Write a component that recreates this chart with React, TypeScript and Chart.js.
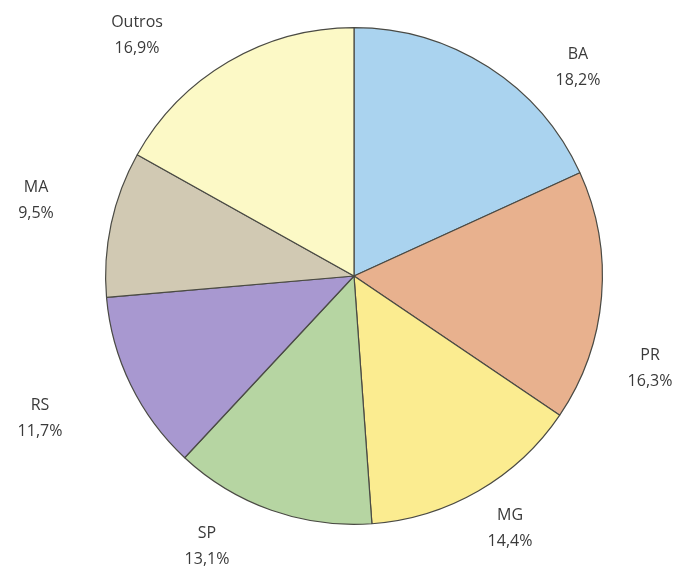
import React, { useEffect, useRef } from "react";
import { Chart, registerables } from "chart.js";

Chart.register(...registerables);

const categories = ["BA", "PR", "MG", "SP", "RS", "MA", "Outros"];
const shares = [18.2, 16.3, 14.4, 13.1, 11.7, 9.5, 16.9];
const shareLabels = ["18,2%", "16,3%", "14,4%", "13,1%", "11,7%", "9,5%", "16,9%"];
const colors = ["#aad3ef", "#e8b18e", "#fbec90", "#b6d5a2", "#a898d0", "#d1c9b3", "#fcf9c6"];
// label block centre offsets relative to pie centre (layout only)
const labelOffsets: [number, number][] = [
  [224, -209],
  [296, 92],
  [156, 252],
  [-147, 270],
  [-314, 142],
  [-318, -76],
  [-217, -241],
];

const labelPlugin = {
  id: "outerLabels",
  afterDraw(chart: any) {
    const ctx = chart.ctx;
    const meta = chart.getDatasetMeta(0);
    const arc0 = meta.data[0];
    if (!arc0) return;
    const cx = arc0.x;
    const cy = arc0.y;
    ctx.save();
    ctx.fillStyle = "#3a3a3a";
    ctx.font = "16px 'Open Sans', sans-serif";
    ctx.textAlign = "center";
    ctx.textBaseline = "middle";
    categories.forEach((c, i) => {
      const [dx, dy] = labelOffsets[i];
      ctx.fillText(c, cx + dx, cy + dy - 13);
      ctx.fillText(shareLabels[i], cx + dx, cy + dy + 13);
    });
    ctx.restore();
  },
};

export default function App() {
  const ref = useRef<HTMLCanvasElement>(null);
  useEffect(() => {
    if (!ref.current) return;
    const chart = new Chart(ref.current, {
      type: "pie",
      data: {
        labels: categories,
        datasets: [
          {
            data: shares,
            backgroundColor: colors,
            borderColor: "#4a4a44",
            borderWidth: 1.2,
          },
        ],
      },
      options: {
        responsive: false,
        animation: false,
        layout: { padding: { left: 105, right: 73, top: 27, bottom: 48 } },
        plugins: {
          legend: { display: false },
          tooltip: { enabled: false },
        },
      },
      plugins: [labelPlugin],
    });
    return () => chart.destroy();
  }, []);
  return (
    <div style={{ position: "fixed", left: 0, top: 0, width: 676, height: 573, background: "#fff" }}>
      <canvas ref={ref} width={676} height={573} style={{ width: 676, height: 573 }} />
    </div>
  );
}
